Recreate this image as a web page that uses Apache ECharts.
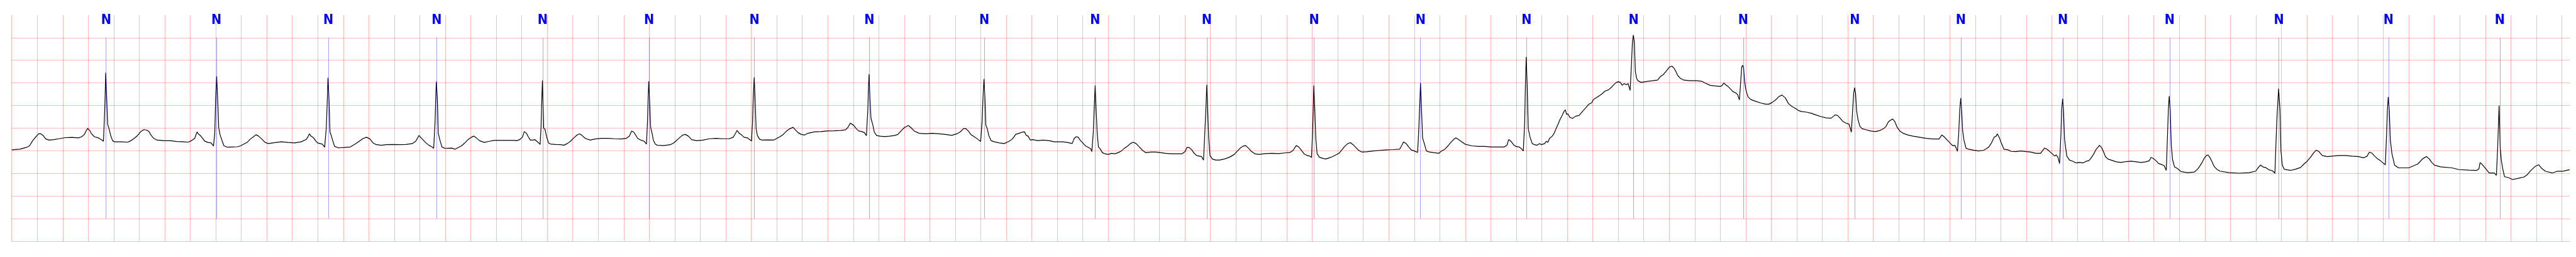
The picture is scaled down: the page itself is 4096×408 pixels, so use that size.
<!DOCTYPE html>
<html>
<head>
<meta charset="utf-8">
<script src="https://cdn.jsdelivr.net/npm/echarts@6/dist/echarts.min.js"></script>
<style>
html,body{margin:0;padding:0;background:#fff;}
#chart{width:4096px;height:408px;}
</style>
</head>
<body>
<div id="chart"></div>
<script>
// ---- data (time in s, amplitude in mV) ----
const beatTimes = [0.740,1.605,2.483,3.333,4.164,4.999,5.825,6.726,7.628,8.497,9.373,10.215,11.049,11.881,12.720,13.580,14.456,15.287,16.087,16.924,17.781,18.641,19.514];
const beatLabels = ['N','N','N','N','N','N','N','N','N','N','N','N','N','N','N','N','N','N','N','N','N','N','N'];

const ecgSeg1 = [
[0,-0.480],[0.062,-0.467],[0.113,-0.429],[0.139,-0.391],[0.164,-0.278],[0.190,-0.189],[0.211,-0.126],[0.229,-0.126],[0.246,-0.164],[0.267,-0.240],[0.293,-0.265],[0.331,-0.253],[0.370,-0.235],[0.421,-0.210],[0.472,-0.205],[0.524,-0.215],[0.549,-0.189],[0.570,-0.139],[0.585,-0.051],[0.596,-0.008],[0.611,-0.051],[0.626,-0.126],[0.647,-0.189],[0.678,-0.215],[0.709,-0.265],[0.719,-0.290],[0.729,0.391],[0.737,1.225],[0.745,0.644],[0.752,0.088],[0.763,-0.013],[0.776,-0.164],[0.791,-0.278],[0.806,-0.303],[0.858,-0.303],[0.909,-0.311],[0.935,-0.278],[0.960,-0.227],[0.986,-0.164],[1.012,-0.076],[1.037,-0.033],[1.058,-0.043],[1.076,-0.076],[1.094,-0.164],[1.114,-0.227],[1.140,-0.265],[1.191,-0.278],[1.243,-0.278],[1.294,-0.295],[1.345,-0.303],[1.384,-0.311],[1.409,-0.278],[1.435,-0.227],[1.453,-0.083],[1.463,-0.126],[1.479,-0.164],[1.494,-0.215],[1.512,-0.285],[1.538,-0.316],[1.564,-0.328],[1.582,-0.396],[1.592,-0.114],[1.599,0.644],[1.607,1.144],[1.615,0.644],[1.623,0.013],[1.633,-0.139],[1.648,-0.265],[1.664,-0.391],[1.692,-0.422],[1.730,-0.417],[1.769,-0.412],[1.795,-0.391],[1.820,-0.354],[1.846,-0.316],[1.872,-0.240],[1.897,-0.189],[1.915,-0.146],[1.936,-0.177],[1.961,-0.240],[1.987,-0.316],[2.013,-0.341],[2.064,-0.321],[2.116,-0.303],[2.167,-0.316],[2.218,-0.328],[2.270,-0.303],[2.308,-0.253],[2.321,-0.202],[2.334,-0.126],[2.347,-0.177],[2.367,-0.215],[2.383,-0.278],[2.398,-0.328],[2.436,-0.354],[2.454,-0.422],[2.467,0.013],[2.475,0.644],[2.480,1.111],[2.488,0.644],[2.496,-0.088],[2.506,-0.164],[2.516,-0.265],[2.532,-0.404],[2.565,-0.437],[2.603,-0.429],[2.655,-0.417],[2.693,-0.354],[2.732,-0.278],[2.757,-0.227],[2.783,-0.202],[2.809,-0.240],[2.834,-0.328],[2.860,-0.366],[2.899,-0.379],[2.937,-0.366],[2.988,-0.361],[3.040,-0.366],[3.091,-0.361],[3.142,-0.341],[3.168,-0.290],[3.194,-0.164],[3.214,-0.227],[3.245,-0.316],[3.271,-0.379],[3.297,-0.417],[3.309,-0.447],[3.320,0.139],[3.325,0.644],[3.330,1.028],[3.338,0.644],[3.345,-0.114],[3.358,-0.265],[3.374,-0.417],[3.399,-0.447],[3.451,-0.442],[3.476,-0.467],[3.502,-0.429],[3.528,-0.391],[3.553,-0.328],[3.579,-0.253],[3.605,-0.202],[3.623,-0.177],[3.643,-0.215],[3.669,-0.278],[3.707,-0.316],[3.746,-0.290],[3.784,-0.270],[3.836,-0.270],[3.887,-0.270]
];
const ecgSeg2 = [
[3.933,-0.270],[3.959,-0.278],[3.984,-0.253],[4.005,-0.202],[4.020,-0.076],[4.036,-0.114],[4.051,-0.189],[4.067,-0.265],[4.087,-0.265],[4.102,-0.253],[4.118,-0.290],[4.133,-0.328],[4.144,-0.361],[4.151,0.013],[4.156,0.518],[4.162,1.053],[4.167,0.518],[4.172,0.000],[4.182,-0.025],[4.195,-0.189],[4.210,-0.328],[4.228,-0.354],[4.267,-0.361],[4.305,-0.366],[4.331,-0.379],[4.357,-0.341],[4.382,-0.290],[4.408,-0.215],[4.434,-0.152],[4.454,-0.126],[4.472,-0.159],[4.498,-0.227],[4.536,-0.265],[4.575,-0.240],[4.626,-0.227],[4.678,-0.227],[4.729,-0.235],[4.780,-0.240],[4.819,-0.227],[4.844,-0.177],[4.862,-0.063],[4.878,-0.088],[4.893,-0.152],[4.909,-0.227],[4.934,-0.265],[4.960,-0.290],[4.978,-0.354],[4.986,0.139],[4.991,0.644],[4.996,1.035],[5.004,0.518],[5.011,0.013],[5.022,-0.114],[5.032,-0.265],[5.047,-0.354],[5.063,-0.379],[5.114,-0.386],[5.165,-0.366],[5.191,-0.328],[5.217,-0.265],[5.242,-0.202],[5.263,-0.152],[5.283,-0.139],[5.307,-0.177],[5.332,-0.253],[5.371,-0.278],[5.422,-0.265],[5.473,-0.235],[5.525,-0.227],[5.576,-0.235],[5.627,-0.235],[5.658,-0.202],[5.674,-0.126],[5.689,-0.051],[5.705,-0.114],[5.725,-0.152],[5.743,-0.202],[5.769,-0.215],[5.787,-0.253],[5.802,-0.285],[5.810,0.139],[5.815,0.644],[5.823,1.124],[5.830,0.644],[5.838,-0.013],[5.848,-0.164],[5.864,-0.240],[5.884,-0.265],[5.936,-0.260],[5.974,-0.265],[6.000,-0.227],[6.025,-0.189],[6.051,-0.139],[6.077,-0.063],[6.102,-0.013],[6.128,0.018],[6.146,-0.038],[6.167,-0.101],[6.192,-0.139],[6.218,-0.152],[6.244,-0.114],[6.295,-0.083],[6.346,-0.076],[6.398,-0.063],[6.449,-0.058],[6.500,-0.051],[6.539,-0.038],[6.557,0.013],[6.577,0.109],[6.603,0.063],[6.624,-0.013],[6.642,-0.063],[6.667,-0.076],[6.688,-0.101],[6.703,-0.169],[6.714,0.391],[6.719,0.896],[6.724,1.194],[6.731,0.644],[6.739,0.215],[6.752,0.088],[6.765,-0.088],[6.783,-0.164],[6.809,-0.177],[6.847,-0.189],[6.886,-0.177],[6.924,-0.164],[6.950,-0.139],[6.975,-0.063],[7.001,0.013],[7.032,0.058],[7.052,0.013],[7.078,-0.063],[7.117,-0.114],[7.168,-0.126],[7.219,-0.114],[7.271,-0.126],[7.322,-0.139],[7.373,-0.159],[7.412,-0.126],[7.437,-0.088],[7.463,-0.013],[7.481,-0.008],[7.502,-0.063],[7.522,-0.139],[7.548,-0.189],[7.574,-0.240],[7.599,-0.295],[7.610,0.139],[7.617,0.644],[7.625,1.086],[7.633,0.644],[7.640,0.063],[7.651,-0.013],[7.663,-0.164],[7.681,-0.278],[7.707,-0.303],[7.746,-0.328],[7.784,-0.341],[7.823,-0.290],[7.848,-0.240],[7.874,-0.139],[7.900,-0.114],[7.925,-0.088],[7.943,-0.083]
];
const ecgSeg3 = [
[7.958,-0.164],[7.971,-0.177],[7.989,-0.265],[8.009,-0.253],[8.048,-0.278],[8.086,-0.265],[8.138,-0.278],[8.176,-0.303],[8.202,-0.303],[8.240,-0.303],[8.279,-0.316],[8.317,-0.341],[8.333,-0.227],[8.348,-0.189],[8.364,-0.202],[8.379,-0.265],[8.400,-0.328],[8.420,-0.391],[8.446,-0.429],[8.461,-0.455],[8.471,-0.518],[8.482,-0.114],[8.489,0.391],[8.497,0.947],[8.505,0.391],[8.513,-0.114],[8.523,-0.417],[8.538,-0.467],[8.554,-0.543],[8.574,-0.568],[8.600,-0.581],[8.626,-0.556],[8.651,-0.568],[8.677,-0.543],[8.703,-0.505],[8.728,-0.442],[8.754,-0.391],[8.774,-0.341],[8.795,-0.311],[8.818,-0.341],[8.844,-0.417],[8.869,-0.492],[8.895,-0.543],[8.934,-0.530],[8.972,-0.530],[9.011,-0.543],[9.049,-0.556],[9.088,-0.568],[9.139,-0.568],[9.178,-0.568],[9.203,-0.518],[9.216,-0.429],[9.234,-0.429],[9.255,-0.480],[9.273,-0.556],[9.293,-0.606],[9.314,-0.619],[9.332,-0.631],[9.347,-0.707],[9.357,-0.114],[9.365,0.391],[9.373,0.960],[9.380,0.391],[9.388,-0.240],[9.398,-0.606],[9.416,-0.682],[9.442,-0.707],[9.473,-0.707],[9.511,-0.682],[9.550,-0.644],[9.588,-0.581],[9.614,-0.505],[9.640,-0.429],[9.660,-0.396],[9.678,-0.386],[9.699,-0.442],[9.724,-0.518],[9.750,-0.568],[9.781,-0.581],[9.832,-0.563],[9.884,-0.556],[9.935,-0.563],[9.986,-0.548],[10.025,-0.538],[10.050,-0.492],[10.074,-0.386],[10.094,-0.417],[10.115,-0.492],[10.135,-0.568],[10.161,-0.606],[10.181,-0.619],[10.194,-0.649],[10.202,-0.114],[10.207,0.391],[10.212,0.942],[10.220,0.391],[10.228,-0.240],[10.238,-0.568],[10.256,-0.644],[10.282,-0.669],[10.307,-0.682],[10.333,-0.657],[10.358,-0.631],[10.384,-0.593],[10.410,-0.556],[10.436,-0.467],[10.454,-0.404],[10.479,-0.341],[10.500,-0.321],[10.520,-0.366],[10.538,-0.417],[10.564,-0.492],[10.590,-0.530],[10.628,-0.523],[10.679,-0.505],[10.731,-0.492],[10.782,-0.480],[10.834,-0.475],[10.885,-0.467],[10.905,-0.366],[10.916,-0.303],[10.936,-0.341],[10.957,-0.417],[10.975,-0.480],[11.000,-0.505],[11.026,-0.538],[11.034,-0.114],[11.041,0.391],[11.049,0.997],[11.057,0.391],[11.065,-0.215],[11.077,-0.328],[11.095,-0.505],[11.121,-0.530],[11.155,-0.543],[11.193,-0.556],[11.214,-0.505],[11.239,-0.467],[11.265,-0.391],[11.291,-0.303],[11.308,-0.253],[11.326,-0.215],[11.347,-0.253],[11.373,-0.303],[11.398,-0.354],[11.450,-0.391],[11.501,-0.404],[11.552,-0.404],[11.604,-0.417],[11.655,-0.417],[11.706,-0.417],[11.727,-0.379],[11.740,-0.253],[11.758,-0.290],[11.778,-0.366],[11.796,-0.404],[11.822,-0.417],[11.840,-0.455],[11.855,-0.505],[11.866,0.139],[11.871,0.896],[11.878,1.573],[11.886,0.896],[11.894,-0.013],[11.907,-0.189],[11.925,-0.341],[11.943,-0.366],[11.963,-0.379]
];
const ecgSeg4 = [
[11.984,-0.341],[11.997,-0.366],[12.023,-0.341],[12.035,-0.290],[12.048,-0.316],[12.061,-0.227],[12.082,-0.177],[12.097,-0.114],[12.112,-0.013],[12.128,0.088],[12.143,0.189],[12.159,0.278],[12.174,0.366],[12.184,0.404],[12.195,0.303],[12.205,0.316],[12.220,0.240],[12.241,0.215],[12.266,0.265],[12.292,0.278],[12.318,0.366],[12.343,0.442],[12.369,0.530],[12.390,0.556],[12.405,0.631],[12.426,0.669],[12.446,0.707],[12.472,0.758],[12.497,0.821],[12.523,0.846],[12.544,0.896],[12.569,0.972],[12.585,1.010],[12.600,1.028],[12.616,1.010],[12.631,0.947],[12.646,0.985],[12.662,0.960],[12.677,0.985],[12.693,0.833],[12.703,1.402],[12.711,1.907],[12.718,2.058],[12.726,1.907],[12.734,1.250],[12.744,1.098],[12.754,1.048],[12.780,1.010],[12.806,1.023],[12.831,1.035],[12.870,1.048],[12.908,1.061],[12.929,1.136],[12.954,1.187],[12.980,1.275],[13.001,1.351],[13.021,1.371],[13.037,1.326],[13.052,1.250],[13.067,1.162],[13.088,1.098],[13.114,1.061],[13.165,1.048],[13.216,1.048],[13.255,1.035],[13.281,0.997],[13.319,0.947],[13.358,0.934],[13.396,0.922],[13.411,0.934],[13.427,0.997],[13.442,0.960],[13.460,0.922],[13.478,0.871],[13.499,0.808],[13.519,0.783],[13.535,0.745],[13.550,0.624],[13.560,1.023],[13.568,1.351],[13.576,1.389],[13.583,1.326],[13.591,1.023],[13.601,0.846],[13.617,0.694],[13.640,0.631],[13.678,0.593],[13.717,0.556],[13.755,0.530],[13.781,0.530],[13.807,0.568],[13.832,0.619],[13.858,0.694],[13.884,0.732],[13.910,0.669],[13.935,0.543],[13.961,0.480],[13.987,0.442],[14.012,0.391],[14.038,0.366],[14.076,0.354],[14.115,0.328],[14.153,0.290],[14.192,0.253],[14.231,0.227],[14.269,0.220],[14.290,0.265],[14.302,0.295],[14.320,0.278],[14.341,0.215],[14.359,0.152],[14.384,0.114],[14.410,0.088],[14.428,-0.088],[14.438,0.391],[14.446,0.770],[14.454,0.896],[14.461,0.770],[14.469,0.391],[14.480,0.189],[14.495,0.038],[14.513,-0.013],[14.539,-0.033],[14.577,-0.063],[14.616,-0.076],[14.654,-0.051],[14.680,-0.013],[14.700,0.038],[14.718,0.139],[14.736,0.177],[14.752,0.202],[14.770,0.139],[14.788,0.013],[14.808,-0.063],[14.834,-0.114],[14.872,-0.152],[14.911,-0.177],[14.962,-0.202],[15.014,-0.227],[15.065,-0.240],[15.116,-0.240],[15.137,-0.152],[15.155,-0.189],[15.180,-0.265],[15.206,-0.341],[15.224,-0.391],[15.239,-0.379],[15.250,-0.442],[15.260,-0.513],[15.270,-0.114],[15.278,0.391],[15.286,0.664],[15.293,0.391],[15.301,-0.063],[15.311,-0.265],[15.327,-0.442],[15.347,-0.467],[15.386,-0.487],[15.424,-0.505],[15.463,-0.492],[15.488,-0.455],[15.506,-0.417],[15.527,-0.328],[15.547,-0.202],[15.563,-0.177],[15.573,-0.126],[15.589,-0.215],[15.604,-0.328],[15.625,-0.467],[15.656,-0.480],[15.681,-0.513],[15.720,-0.518],[15.758,-0.505],[15.797,-0.518],[15.835,-0.530],[15.874,-0.556],[15.912,-0.556],[15.943,-0.442],[15.964,-0.467],[15.984,-0.518]
];
const ecgSeg5 = [
[16.009,-0.581],[16.022,-0.619],[16.035,-0.593],[16.048,-0.644],[16.061,-0.783],[16.072,-0.114],[16.077,0.391],[16.085,0.649],[16.092,0.391],[16.100,-0.240],[16.108,-0.417],[16.118,-0.619],[16.139,-0.707],[16.165,-0.732],[16.191,-0.770],[16.218,-0.758],[16.244,-0.770],[16.270,-0.732],[16.291,-0.720],[16.309,-0.657],[16.327,-0.581],[16.348,-0.467],[16.364,-0.417],[16.374,-0.379],[16.390,-0.429],[16.405,-0.518],[16.421,-0.631],[16.439,-0.682],[16.465,-0.707],[16.504,-0.745],[16.543,-0.758],[16.583,-0.740],[16.622,-0.732],[16.661,-0.745],[16.700,-0.758],[16.739,-0.745],[16.765,-0.720],[16.778,-0.649],[16.796,-0.669],[16.817,-0.720],[16.838,-0.783],[16.864,-0.808],[16.882,-0.833],[16.898,-0.934],[16.908,-0.114],[16.914,0.391],[16.921,0.707],[16.929,0.391],[16.937,-0.366],[16.947,-0.694],[16.963,-0.859],[16.987,-0.896],[17.013,-0.960],[17.065,-0.985],[17.117,-0.972],[17.143,-0.909],[17.156,-0.859],[17.177,-0.770],[17.195,-0.669],[17.213,-0.606],[17.224,-0.593],[17.239,-0.644],[17.255,-0.732],[17.273,-0.846],[17.294,-0.909],[17.320,-0.952],[17.391,-0.985],[17.469,-0.997],[17.547,-0.985],[17.599,-0.952],[17.620,-0.871],[17.638,-0.816],[17.657,-0.859],[17.677,-0.871],[17.703,-0.922],[17.730,-0.942],[17.750,-0.997],[17.761,-0.114],[17.769,0.391],[17.779,0.871],[17.790,0.391],[17.797,-0.492],[17.808,-0.821],[17.823,-0.909],[17.847,-0.922],[17.873,-0.934],[17.912,-0.909],[17.951,-0.871],[17.977,-0.795],[18.003,-0.732],[18.029,-0.644],[18.055,-0.543],[18.074,-0.487],[18.095,-0.518],[18.121,-0.606],[18.160,-0.631],[18.199,-0.619],[18.251,-0.606],[18.303,-0.606],[18.355,-0.619],[18.407,-0.631],[18.446,-0.657],[18.473,-0.619],[18.491,-0.530],[18.512,-0.556],[18.532,-0.619],[18.551,-0.669],[18.577,-0.720],[18.603,-0.783],[18.616,-0.808],[18.626,-0.114],[18.632,0.391],[18.639,0.689],[18.647,0.391],[18.655,-0.265],[18.668,-0.568],[18.689,-0.821],[18.719,-0.879],[18.799,-0.879],[18.871,-0.792],[18.907,-0.682],[18.938,-0.629],[18.961,-0.682],[18.979,-0.755],[19.001,-0.818],[19.049,-0.856],[19.139,-0.879],[19.193,-0.917],[19.274,-0.930],[19.332,-0.936],[19.350,-0.900],[19.359,-0.762],[19.372,-0.792],[19.399,-0.882],[19.430,-0.991],[19.470,-0.991],[19.487,-1.045],[19.497,-0.429],[19.508,0.495],[19.517,-0.429],[19.526,-0.720],[19.537,-0.900],[19.551,-1.074],[19.586,-1.098],[19.613,-1.136],[19.658,-1.111],[19.703,-1.081],[19.730,-1.027],[19.757,-0.936],[19.792,-0.845],[19.819,-0.810],[19.846,-0.900],[19.873,-0.955],[19.927,-0.991],[19.962,-0.955],[20.007,-0.955],[20.034,-0.936],[20.061,-0.918]
];

const xMin = 0, xMax = 20.064, xStep = 0.2;
const yMin = -2.5, yMax = 2.5, yStep = 0.5;
const markLow = -2.0, markHigh = 2.0;

const ecg = [].concat(ecgSeg1, ecgSeg2, ecgSeg3, ecgSeg4, ecgSeg5);

const gridColor = 'rgba(255,0,0,0.27)';
const chart = echarts.init(document.getElementById('chart'), null, {renderer: 'canvas'});
chart.setOption({
  animation: false,
  backgroundColor: '#ffffff',
  grid: {left: 18.7, top: 23.9, width: 4067.7, height: 359.0, show: false},
  xAxis: {
    type: 'value', min: xMin, max: xMax, interval: xStep,
    axisLine: {show: false}, axisTick: {show: false}, axisLabel: {show: false},
    splitLine: {show: true, showMinLine: true, showMaxLine: false, lineStyle: {color: gridColor, width: 1.1}}
  },
  yAxis: {
    type: 'value', min: yMin, max: yMax, interval: yStep,
    axisLine: {show: false}, axisTick: {show: false}, axisLabel: {show: false},
    splitLine: {show: true, showMinLine: true, showMaxLine: false, lineStyle: {color: gridColor, width: 1.1}}
  },
  series: [
    {
      type: 'line', data: [], silent: true, z: 1,
      markLine: {
        silent: true, symbol: ['none','none'], animation: false,
        lineStyle: {color: 'rgba(0,0,255,0.5)', width: 0.7, type: 'solid'},
        label: {show: true, position: 'end', distance: 16, color: '#0000ff',
          fontFamily: '"Liberation Sans Narrow","DejaVu Sans Condensed","Liberation Sans",sans-serif',
          fontWeight: 'bold', fontSize: 21.5, formatter: p => p.name},
        emphasis: {disabled: true},
        data: beatTimes.map((t, i) => [{name: beatLabels[i], coord: [t, markLow]}, {coord: [t, markHigh]}])
      }
    },
    {
      type: 'line', data: ecg, showSymbol: false, silent: true, z: 2,
      lineStyle: {color: '#000000', width: 1.2}
    }
  ]
});
</script>
</body>
</html>
